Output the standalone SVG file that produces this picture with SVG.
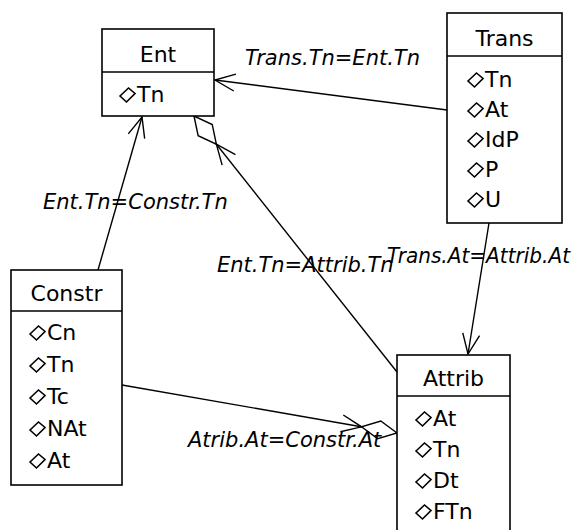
<svg xmlns="http://www.w3.org/2000/svg" xmlns:xlink="http://www.w3.org/1999/xlink" width="579" height="530" viewBox="0 0 579 530">
<style>
.box{fill:#fff;stroke:#000;stroke-width:1.6}
.div{stroke:#000;stroke-width:1.6}
.hd{font-family:"DejaVu Sans",Verdana,sans-serif;font-size:22px;text-anchor:middle;fill:#000}
.at{font-family:"DejaVu Sans",Verdana,sans-serif;font-size:22px;fill:#000}
.lb{font-family:"DejaVu Sans",Verdana,sans-serif;font-size:21px;font-style:italic;fill:#000}
.ln{fill:none;stroke:#000;stroke-width:1.4}
.ic{fill:#fff;stroke:#000;stroke-width:1.6}
</style>
<defs>
<path id="d" class="ic" d="M-17,-6 L-8.5,-14 L-2,-8.5 L-10.5,0 Z"/>
<marker id="arrow" markerUnits="userSpaceOnUse" orient="auto" markerWidth="30" markerHeight="30" viewBox="-25 -15 30 30" refX="0" refY="0" overflow="visible">
<path d="M-20,-8.5 L0,0 L-20,8.5" fill="none" stroke="#000" stroke-width="1.4"/>
</marker>
<marker id="agg" markerUnits="userSpaceOnUse" orient="auto" markerWidth="70" markerHeight="30" viewBox="-60 -15 70 30" refX="0" refY="0" overflow="visible">
<path d="M0,0 L-18,-9 L-36,0 L-18,9 Z" fill="#fff" stroke="#000" stroke-width="1.4"/>
<path d="M-56,-8.5 L-36,0 L-56,8.5" fill="none" stroke="#000" stroke-width="1.4"/>
</marker>
</defs>
<rect width="579" height="530" fill="#fff"/>
<g id="connectors">
<path class="ln" d="M447,110 L215,80" marker-end="url(#arrow)"/>
<path class="ln" d="M98,270 L142,117" marker-end="url(#arrow)"/>
<path class="ln" d="M397,372 L194,116" marker-end="url(#agg)"/>
<path class="ln" d="M489,223 L468,354" marker-end="url(#arrow)"/>
<path class="ln" d="M122,385 L397,433" marker-end="url(#agg)"/>
<text class="lb" x="245" y="65">Trans.Tn=Ent.Tn</text>
<text class="lb" x="43" y="209">Ent.Tn=Constr.Tn</text>
<text class="lb" x="217" y="272">Ent.Tn=Attrib.Tn</text>
<text class="lb" x="387" y="263" textLength="183" lengthAdjust="spacingAndGlyphs">Trans.At=Attrib.At</text>
<text class="lb" x="188" y="447">Atrib.At=Constr.At</text>
</g>
<g id="Ent">
<rect class="box" x="102" y="29" width="112" height="87"/>
<line class="div" x1="102" y1="72" x2="214" y2="72"/>
<text class="hd" x="158" y="62">Ent</text>
<use xlink:href="#d" x="137" y="102"/><text class="at" x="137" y="102">Tn</text>
</g>
<g id="Trans">
<rect class="box" x="447" y="13" width="115" height="210"/>
<line class="div" x1="447" y1="56" x2="562" y2="56"/>
<text class="hd" x="504.5" y="46">Trans</text>
<use xlink:href="#d" x="485" y="87"/><text class="at" x="485" y="87">Tn</text>
<use xlink:href="#d" x="485" y="117"/><text class="at" x="485" y="117">At</text>
<use xlink:href="#d" x="485" y="147"/><text class="at" x="485" y="147">IdP</text>
<use xlink:href="#d" x="485" y="177"/><text class="at" x="485" y="177">P</text>
<use xlink:href="#d" x="485" y="207"/><text class="at" x="485" y="207">U</text>
</g>
<g id="Constr">
<rect class="box" x="11" y="270" width="111" height="215"/>
<line class="div" x1="11" y1="311" x2="122" y2="311"/>
<text class="hd" x="66.5" y="301">Constr</text>
<use xlink:href="#d" x="47" y="340"/><text class="at" x="47" y="340">Cn</text>
<use xlink:href="#d" x="47" y="372"/><text class="at" x="47" y="372">Tn</text>
<use xlink:href="#d" x="47" y="404"/><text class="at" x="47" y="404">Tc</text>
<use xlink:href="#d" x="47" y="436"/><text class="at" x="47" y="436">NAt</text>
<use xlink:href="#d" x="47" y="468"/><text class="at" x="47" y="468">At</text>
</g>
<g id="Attrib">
<rect class="box" x="397" y="355" width="113" height="190"/>
<line class="div" x1="397" y1="396" x2="510" y2="396"/>
<text class="hd" x="453.5" y="386">Attrib</text>
<use xlink:href="#d" x="433" y="426"/><text class="at" x="433" y="426">At</text>
<use xlink:href="#d" x="433" y="457"/><text class="at" x="433" y="457">Tn</text>
<use xlink:href="#d" x="433" y="488"/><text class="at" x="433" y="488">Dt</text>
<use xlink:href="#d" x="433" y="519"/><text class="at" x="433" y="519">FTn</text>
</g>
</svg>
